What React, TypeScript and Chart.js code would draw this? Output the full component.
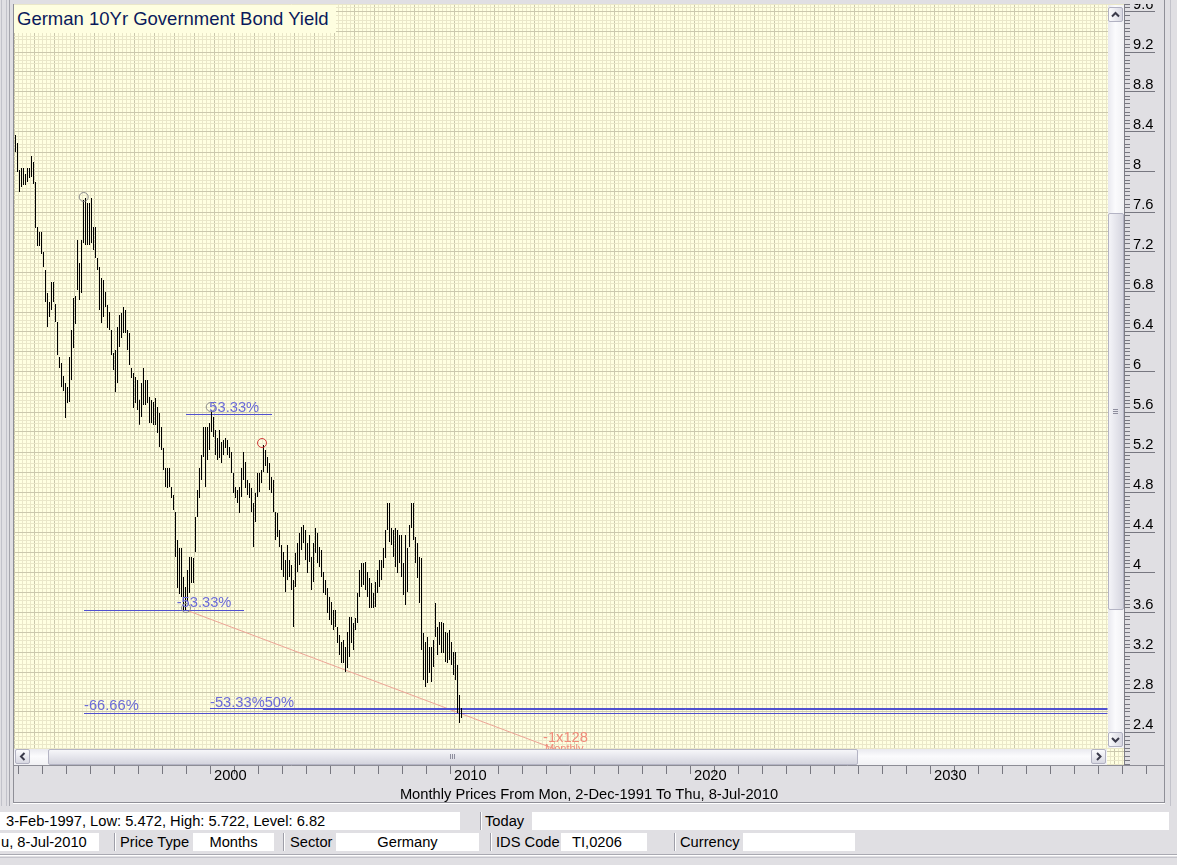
import React, { useEffect, useRef } from "react";
import { Chart, registerables } from "chart.js";

Chart.register(...registerables);

// ---------------- text ----------------
const chartTitle = "German 10Yr Government Bond Yield";
const axisCaption = "Monthly Prices From Mon, 2-Dec-1991 To Thu, 8-Jul-2010";
const infoText = "3-Feb-1997, Low: 5.472, High: 5.722, Level: 6.82";
const todayLabel = "Today";
const dateText = "u, 8-Jul-2010";
const fieldLabels = ["Price Type", "Sector", "IDS Code", "Currency"];
const fieldValues = ["Months", "Germany", "TI,0206", ""];

// ---------------- data ----------------
// monthly bars, index 0 = Dec 1991 ... index 223 = Jul 2010
const monthlyHigh = [
  8.37,
  8.29, 8.02, 8.04, 8.04, 7.98, 8.04, 8.04, 8.16, 8.10, 7.90, 7.45, 7.40, // 1992
  7.40, 7.20, 7.02, 6.79, 6.70, 6.90, 6.90, 6.68, 6.50, 6.15, 6.09, 5.96, // 1993
  5.89, 5.85, 6.15, 6.42, 6.74, 6.76, 7.32, 7.09, 7.32, 7.72, 7.74, 7.69, // 1994
  7.69, 7.74, 7.45, 7.45, 7.14, 7.05, 6.94, 6.92, 6.80, 6.67, 6.60, 6.42, // 1995
  6.19, 6.22, 6.45, 6.57, 6.59, 6.65, 6.62, 6.42, 6.39, 6.04, 5.99, 5.95, // 1996
  5.92, 5.722, 5.89, 6.04, 5.92, 5.92, 5.75, 5.72, 5.70, 5.74, 5.65, 5.59, // 1997
  5.45, 5.24, 5.04, 5.04, 5.04, 4.85, 4.77, 4.60, 4.32, 4.24, 4.24, 3.95, // 1998
  3.85, 4.02, 4.15, 4.15, 4.14, 4.55, 4.82, 5.04, 5.17, 5.45, 5.45, 5.45, // 1999
  5.49, 5.62, 5.55, 5.42, 5.34, 5.42, 5.30, 5.32, 5.34, 5.32, 5.25, 5.20, // 2000
  4.99, 4.85, 4.82, 4.85, 5.04, 5.20, 5.10, 4.92, 4.89, 4.84, 4.69, 4.79, // 2001
  4.99, 4.99, 5.02, 5.27, 5.22, 5.15, 5.09, 4.95, 4.92, 4.60, 4.59, 4.42, // 2002
  4.27, 4.20, 4.12, 4.27, 4.12, 4.07, 3.92, 4.19, 4.29, 4.39, 4.45, 4.47, // 2003
  4.42, 4.29, 4.37, 4.15, 4.29, 4.44, 4.39, 4.25, 4.22, 4.00, 3.92, 3.84, // 2004
  3.75, 3.70, 3.62, 3.62, 3.45, 3.37, 3.30, 3.32, 3.25, 3.40, 3.55, 3.55, // 2005
  3.49, 3.54, 3.79, 4.02, 4.09, 4.09, 4.10, 4.00, 3.94, 3.89, 3.79, 3.90, // 2006
  4.02, 4.12, 4.12, 4.24, 4.42, 4.69, 4.69, 4.44, 4.42, 4.44, 4.42, 4.37, // 2007
  4.37, 4.09, 4.37, 4.24, 4.47, 4.69, 4.69, 4.35, 4.29, 4.15, 4.14, 3.39, // 2008
  3.30, 3.35, 3.25, 3.25, 3.32, 3.69, 3.45, 3.50, 3.50, 3.49, 3.40, 3.39, // 2009
  3.42, 3.30, 3.20, 3.20, 3.07, 2.77, 2.64, // 2010
];
const monthlyLow = [
  8.20,
  8.00, 7.80, 7.85, 7.87, 7.87, 7.90, 7.94, 7.95, 7.88, 7.44, 7.26, 7.26, // 1992
  7.18, 7.05, 6.70, 6.45, 6.55, 6.62, 6.70, 6.50, 6.17, 6.04, 5.85, 5.81, // 1993
  5.54, 5.69, 5.70, 5.92, 6.24, 6.48, 6.82, 6.72, 6.79, 7.29, 7.27, 7.27, // 1994
  7.27, 7.29, 7.22, 7.14, 7.02, 6.62, 6.49, 6.55, 6.65, 6.44, 6.42, 6.17, // 1995
  6.02, 5.80, 5.89, 6.25, 6.34, 6.39, 6.39, 6.22, 6.07, 5.94, 5.64, 5.69, // 1996
  5.62, 5.472, 5.55, 5.67, 5.67, 5.69, 5.49, 5.49, 5.47, 5.47, 5.39, 5.25, // 1997
  5.22, 5.02, 4.85, 4.84, 4.85, 4.74, 4.62, 4.15, 3.84, 3.78, 3.75, 3.62, // 1998
  3.62, 3.71, 3.79, 3.89, 3.89, 4.20, 4.55, 4.74, 4.92, 5.15, 4.85, 5.12, // 1999
  5.22, 5.40, 5.35, 5.17, 5.12, 5.14, 5.09, 5.17, 5.24, 5.17, 5.14, 4.99, // 2000
  4.79, 4.74, 4.69, 4.59, 4.75, 4.92, 4.84, 4.77, 4.74, 4.60, 4.25, 4.50, // 2001
  4.75, 4.80, 4.89, 5.00, 5.06, 4.99, 4.82, 4.79, 4.60, 4.32, 4.35, 4.25, // 2002
  4.02, 3.95, 3.80, 3.92, 3.95, 3.82, 3.45, 3.85, 4.00, 4.07, 4.22, 4.29, // 2003
  4.12, 3.99, 4.10, 3.82, 3.90, 4.19, 4.09, 4.05, 3.95, 3.79, 3.77, 3.59, // 2004
  3.52, 3.47, 3.42, 3.45, 3.29, 3.17, 3.09, 3.09, 3.00, 3.04, 3.15, 3.29, // 2005
  3.22, 3.42, 3.49, 3.75, 3.85, 3.87, 3.82, 3.75, 3.64, 3.64, 3.64, 3.65, // 2006
  3.79, 3.85, 3.92, 4.04, 4.14, 4.42, 4.30, 4.27, 4.15, 4.05, 3.99, 4.09, // 2007
  3.95, 3.77, 3.67, 3.80, 4.25, 4.44, 4.32, 4.09, 3.94, 3.69, 3.22, 2.92, // 2008
  2.85, 2.89, 2.99, 2.90, 3.05, 3.35, 3.17, 3.27, 3.19, 3.19, 3.10, 3.09, // 2009
  3.12, 3.07, 2.97, 2.92, 2.59, 2.49, 2.54, // 2010
];

// x-axis year ticks and the decades that carry a label
const yearTicks = Array.from({ length: 47 }, (_, k) => 1992 + k);
const decadeLabels = [2000, 2010, 2020, 2030];
// price axis: fine ticks every 0.04, labelled every 0.4
const priceTicks = Array.from({ length: 191 }, (_, k) => Math.round((52 + k) * 4) / 100);
// background grid columns (helper axis)
const gridColumns = Array.from({ length: 278 }, (_, k) => k * 4);

// retracement lines (x in month index, y in yield)
const fibLines = [
  { label: "53.33%", y: 5.575, from: 85.25, to: 128.25 },
  { label: "-53.33% upper", y: 3.615, from: 34.25, to: 114.25 },
  { label: "-66.66%", y: 2.585, from: 34.25, to: 546 },
  { label: "-53.33%", y: 2.635, from: 97.25, to: 546 },
  { label: "50%", y: 2.625, from: 123.75, to: 546 },
];
const fibLabels = [
  { text: "53.33%", x: 96.9, y: 5.605 },
  { text: "-53.33%", x: 80.6, y: 3.655 },
  { text: "-66.66%", x: 34.25, y: 2.62 },
  { text: "-53.33%50%", x: 97.25, y: 2.655 },
];
const trendLine = [
  { x: 85.25, y: 3.62 },
  { x: 275, y: 2.19 },
];
const trendLabels = [
  { text: "-1x128", x: 263.75, y: 2.3, size: 14.7 },
  { text: "Monthly", x: 264.75, y: 2.2, size: 11 },
];
const pivotMarkers = [
  { x: 34.1, y: 7.75, color: "#8c8c8c" },
  { x: 97.6, y: 5.65, color: "#8c8c8c" },
  { x: 85.25, y: 3.64, color: "#8c8c8c" },
  { x: 123.25, y: 5.29, color: "#d23c3c" },
];

// ---------------- look ----------------
const FONT_FAMILY = '"Liberation Sans", Arial, sans-serif';
const CHROME = "#e0dfe3";
const PLOT_BG = "#ffffe1";
const GRID_MINOR = "#eae7c9";
const GRID_MAJOR = "#cbc8ad";
const AXIS_TICK = "#777780";
const FIB_LINE = "#5050d0";
const FIB_TEXT = "#6b6bd8";
const TREND_LINE = "#eda496";
const TREND_TEXT = "#f08c7a";

const Y_MIN = 2.07;
const Y_MAX = 9.68;
const M_MIN = -0.75;
const M_MAX = 554.25;
const YEAR_MIN = 2000 - 197 / 24;
const YEAR_MAX = 2000 + 913 / 24;

const alignPx = (p: number) => Math.round(p - 0.5) + 0.5;

const zeroPadding = (s: any) => {
  s.paddingLeft = 0;
  s.paddingRight = 0;
  s.paddingTop = 0;
  s.paddingBottom = 0;
};

const plotBackground = {
  id: "plotBackground",
  beforeDraw(chart: any) {
    const { ctx, chartArea: a } = chart;
    ctx.save();
    ctx.fillStyle = PLOT_BG;
    ctx.fillRect(a.left, a.top, a.right - a.left, a.bottom - a.top);
    ctx.restore();
  },
};

const annotationText = {
  id: "annotationText",
  afterDatasetsDraw(chart: any) {
    const { ctx, chartArea: a, scales } = chart;
    const xs = scales.xm;
    const ys = scales.y;
    ctx.save();
    ctx.beginPath();
    ctx.rect(a.left, a.top, a.right - a.left, a.bottom - a.top);
    ctx.clip();
    ctx.textAlign = "left";
    ctx.textBaseline = "alphabetic";
    ctx.font = `14.7px ${FONT_FAMILY}`;
    ctx.fillStyle = FIB_TEXT;
    fibLabels.forEach((l) => ctx.fillText(l.text, xs.getPixelForValue(l.x), ys.getPixelForValue(l.y)));
    ctx.fillStyle = TREND_TEXT;
    trendLabels.forEach((l) => {
      ctx.font = `${l.size}px ${FONT_FAMILY}`;
      ctx.fillText(l.text, xs.getPixelForValue(l.x), ys.getPixelForValue(l.y));
    });
    ctx.restore();
  },
};

const axisExtras = {
  id: "axisExtras",
  afterDraw(chart: any) {
    const { ctx, chartArea: a, scales } = chart;
    const y = scales.y;
    const x = scales.x;
    ctx.save();
    ctx.strokeStyle = AXIS_TICK;
    ctx.lineWidth = 1;
    ctx.beginPath();
    y.ticks.forEach((t: any) => {
      if (Math.round(t.value * 100) % 40 === 0) {
        const py = alignPx(y.getPixelForValue(t.value));
        ctx.moveTo(a.right, py);
        ctx.lineTo(a.right + 31, py);
      }
    });
    for (let yr = Math.floor(YEAR_MAX) + 1; ; yr++) {
      const px = x.getPixelForValue(yr);
      if (px > 1164) break;
      const ax = alignPx(px);
      ctx.moveTo(ax, a.bottom);
      ctx.lineTo(ax, a.bottom + 9);
    }
    ctx.stroke();
    ctx.strokeStyle = "#8d8d96";
    ctx.beginPath();
    ctx.moveTo(a.right, a.bottom + 0.5);
    ctx.lineTo(1164, a.bottom + 0.5);
    ctx.stroke();
    ctx.restore();
  },
};

type Dir = "up" | "down" | "left" | "right";

function ScrollButton({ left, top, dir }: { left: number; top: number; dir: Dir }) {
  const pts = {
    up: "3,8.5 6.5,5 10,8.5",
    down: "3,5 6.5,8.5 10,5",
    left: "8.5,3 5,6.5 8.5,10",
    right: "5,3 8.5,6.5 5,10",
  }[dir];
  const vertical = dir === "up" || dir === "down";
  return (
    <div
      style={{
        position: "absolute",
        left,
        top,
        width: 15,
        height: 15,
        boxSizing: "border-box",
        border: "1px solid #b2b2c2",
        borderRadius: 2,
        background: vertical
          ? "linear-gradient(to right, #fbfbfd, #d8d8e2)"
          : "linear-gradient(to bottom, #fbfbfd, #d8d8e2)",
      }}
    >
      <svg width={13} height={13} style={{ position: "absolute", left: 0, top: 0 }}>
        <polyline points={pts} fill="none" stroke="#3a3a4a" strokeWidth={2} />
      </svg>
    </div>
  );
}

function Line({ l, t, w, h, c }: { l: number; t: number; w: number; h: number; c: string }) {
  return <div style={{ position: "absolute", left: l, top: t, width: w, height: h, background: c }} />;
}

function Field({ left, top, width, text, align = "left", pad = 0 }: any) {
  return (
    <div
      style={{
        position: "absolute",
        left,
        top,
        width,
        height: 18,
        background: "#ffffff",
        lineHeight: "18px",
        textAlign: align,
        paddingLeft: pad,
        boxSizing: "border-box",
        whiteSpace: "nowrap",
        overflow: "hidden",
      }}
    >
      {text}
    </div>
  );
}

function Sep({ left, top }: { left: number; top: number }) {
  return (
    <>
      <Line l={left} t={top} w={1} h={18} c="#9e9ea8" />
      <Line l={left + 1} t={top} w={1} h={18} c="#ffffff" />
    </>
  );
}

function Label({ left, top, text }: { left: number; top: number; text: string }) {
  return (
    <div style={{ position: "absolute", left, top, height: 18, lineHeight: "18px", whiteSpace: "nowrap" }}>{text}</div>
  );
}

export default function App() {
  const canvasRef = useRef<HTMLCanvasElement | null>(null);

  useEffect(() => {
    const canvas = canvasRef.current;
    if (!canvas) return;
    const barData = monthlyHigh.map((h, i) => ({ x: i, y: [monthlyLow[i], h] }));
    const chart = new Chart(canvas, {
      type: "bar",
      data: {
        datasets: [
          {
            type: "line",
            label: "Pivots",
            data: pivotMarkers.map((p) => ({ x: p.x, y: p.y })),
            xAxisID: "xm",
            yAxisID: "y",
            showLine: false,
            pointRadius: 4.5,
            pointHoverRadius: 4.5,
            pointStyle: "circle",
            pointBorderWidth: 1,
            pointBorderColor: pivotMarkers.map((p) => p.color),
            pointBackgroundColor: "rgba(0,0,0,0)",
            order: 0,
          } as any,
          {
            type: "bar",
            label: "Yield",
            data: barData as any,
            xAxisID: "xm",
            yAxisID: "y",
            backgroundColor: "#000000",
            borderWidth: 0,
            barThickness: 1,
            inflateAmount: 0,
            order: 1,
          } as any,
          ...fibLines.map(
            (l) =>
              ({
                type: "line",
                label: l.label,
                data: [
                  { x: l.from, y: l.y },
                  { x: l.to, y: l.y },
                ],
                xAxisID: "xm",
                yAxisID: "y",
                borderColor: FIB_LINE,
                borderWidth: 1,
                pointRadius: 0,
                fill: false,
                order: 2,
              }) as any
          ),
          {
            type: "line",
            label: "Trend",
            data: trendLine,
            xAxisID: "xm",
            yAxisID: "y",
            borderColor: TREND_LINE,
            borderWidth: 1,
            pointRadius: 0,
            fill: false,
            order: 2,
          } as any,
        ],
      },
      options: {
        responsive: false,
        animation: false,
        events: [],
        layout: { padding: { left: 14, top: 4, right: 0, bottom: 0 }, autoPadding: false } as any,
        plugins: { legend: { display: false }, tooltip: { enabled: false }, title: { display: false } },
        scales: {
          xm: {
            type: "linear",
            axis: "x",
            display: false,
            min: M_MIN,
            max: M_MAX,
            offset: false,
            grid: { offset: false },
          } as any,
          gx: {
            type: "linear",
            axis: "x",
            position: "top",
            min: 0,
            max: 1110,
            offset: false,
            afterBuildTicks: (s: any) => {
              s.ticks = gridColumns.map((value) => ({ value }));
            },
            afterFit: (s: any) => {
              s.height = 0;
              zeroPadding(s);
            },
            ticks: { display: false, autoSkip: false },
            grid: {
              color: (c: any) => (c.tick && c.tick.value % 20 === 0 ? GRID_MAJOR : GRID_MINOR),
              drawTicks: false,
              offset: false,
            },
            border: { display: false },
          } as any,
          x: {
            type: "linear",
            axis: "x",
            position: "bottom",
            min: YEAR_MIN,
            max: YEAR_MAX,
            offset: false,
            afterBuildTicks: (s: any) => {
              s.ticks = yearTicks.map((value) => ({ value }));
            },
            afterFit: (s: any) => {
              s.height = 40;
              zeroPadding(s);
            },
            ticks: {
              autoSkip: false,
              maxRotation: 0,
              minRotation: 0,
              align: "start",
              labelOffset: 3,
              padding: -7,
              color: "#000000",
              font: { family: FONT_FAMILY, size: 14.7 },
              callback: (v: any) => (decadeLabels.includes(Math.round(Number(v))) ? String(Math.round(Number(v))) : ""),
            },
            grid: { drawOnChartArea: false, drawTicks: true, tickLength: 9, tickColor: AXIS_TICK, offset: false },
            border: { display: true, color: "#8d8d96" },
          } as any,
          y: {
            type: "linear",
            position: "right",
            min: Y_MIN,
            max: Y_MAX,
            beginAtZero: false,
            afterBuildTicks: (s: any) => {
              s.ticks = priceTicks.map((value) => ({ value }));
            },
            afterFit: (s: any) => {
              s.width = 53;
              zeroPadding(s);
            },
            ticks: {
              autoSkip: false,
              padding: 3,
              labelOffset: -7,
              color: "#000000",
              font: { family: FONT_FAMILY, size: 14.7 },
              callback: (v: any) => {
                const k = Math.round(Number(v) * 100);
                return k % 40 === 0 ? String(k / 100) : "";
              },
            },
            grid: {
              color: (c: any) => (c.tick && Math.round(c.tick.value * 100) % 20 === 0 ? GRID_MAJOR : GRID_MINOR),
              tickLength: 6,
              tickColor: AXIS_TICK,
              drawTicks: true,
            },
            border: { display: true, color: "#7d7d86" },
          } as any,
        },
      },
      plugins: [plotBackground, annotationText, axisExtras],
    });
    return () => chart.destroy();
  }, []);

  return (
    <div
      style={{
        position: "absolute",
        left: 0,
        top: 0,
        width: 1177,
        height: 865,
        background: CHROME,
        overflow: "hidden",
        fontFamily: FONT_FAMILY,
        fontSize: 14.7,
        color: "#000000",
      }}
    >
      <canvas
        ref={canvasRef}
        width={1177}
        height={805}
        style={{ position: "absolute", left: 0, top: 0, width: 1177, height: 805, display: "block" }}
      />

      {/* window frame */}
      <Line l={0} t={0} w={1177} h={4} c={CHROME} />
      <Line l={1} t={0} w={1} h={806} c="#c2c2ca" />
      <Line l={6} t={0} w={1} h={806} c="#c2c2ca" />
      <Line l={9} t={0} w={1} h={806} c="#a6a6ae" />
      <Line l={13} t={4} w={1} h={799} c="#8f8f97" />
      <Line l={13} t={802} w={1152} h={1} c="#8f8f97" />
      <Line l={13} t={803} w={1152} h={1} c="#ffffff" />
      <Line l={1164} t={0} w={1} h={803} c="#8f8f97" />
      <Line l={1170} t={0} w={1} h={806} c="#c2c2ca" />

      {/* title */}
      <div
        style={{
          position: "absolute",
          left: 14,
          top: 5,
          width: 322,
          height: 28,
          background: "#fefee0",
          color: "#0a1a5c",
          fontSize: 18.5,
          lineHeight: "28px",
          paddingLeft: 3,
          boxSizing: "border-box",
          whiteSpace: "nowrap",
        }}
      >
        {chartTitle}
      </div>

      {/* vertical scrollbar */}
      <div
        style={{
          position: "absolute",
          left: 1108,
          top: 5,
          width: 16,
          height: 743,
          background: "linear-gradient(to right, #e9e9ef, #fbfbfd 45%, #f1f1f4)",
        }}
      />
      <ScrollButton left={1108} top={7} dir="up" />
      <div
        style={{
          position: "absolute",
          left: 1108,
          top: 213,
          width: 16,
          height: 397,
          boxSizing: "border-box",
          border: "1px solid #b4b4c4",
          borderRadius: 2,
          background: "linear-gradient(to right, #f4f4f8, #d6d6e0)",
        }}
      />
      <Line l={1113} t={409} w={5} h={1} c="#8e8e9e" />
      <Line l={1113} t={411} w={5} h={1} c="#8e8e9e" />
      <Line l={1113} t={413} w={5} h={1} c="#8e8e9e" />
      <ScrollButton left={1108} top={732} dir="down" />

      {/* horizontal scrollbar */}
      <div
        style={{
          position: "absolute",
          left: 14,
          top: 749,
          width: 1093,
          height: 16,
          background: "linear-gradient(to bottom, #e9e9ef, #fbfbfd 45%, #f1f1f4)",
        }}
      />
      <ScrollButton left={15} top={749} dir="left" />
      <div
        style={{
          position: "absolute",
          left: 48,
          top: 749,
          width: 810,
          height: 16,
          boxSizing: "border-box",
          border: "1px solid #b4b4c4",
          borderRadius: 2,
          background: "linear-gradient(to bottom, #f6f6f9, #d4d4de)",
        }}
      />
      <Line l={450} t={754} w={1} h={5} c="#8e8e9e" />
      <Line l={452} t={754} w={1} h={5} c="#8e8e9e" />
      <Line l={454} t={754} w={1} h={5} c="#8e8e9e" />
      <ScrollButton left={1091} top={749} dir="right" />

      {/* axis caption */}
      <div
        style={{
          position: "absolute",
          left: 389,
          top: 785,
          width: 400,
          height: 18,
          lineHeight: "18px",
          textAlign: "center",
          whiteSpace: "nowrap",
        }}
      >
        {axisCaption}
      </div>

      {/* status row 1 */}
      <Field left={0} top={812} width={460} text={infoText} pad={6} />
      <Sep left={480} top={812} />
      <Label left={485} top={812} text={todayLabel} />
      <Field left={532} top={812} width={637} text="" />

      {/* status row 2 */}
      <Field left={0} top={833} width={99} text={dateText} pad={1} />
      <Sep left={114} top={833} />
      <Label left={120} top={833} text={fieldLabels[0]} />
      <Field left={193} top={833} width={81} text={fieldValues[0]} align="center" />
      <Sep left={283} top={833} />
      <Label left={290} top={833} text={fieldLabels[1]} />
      <Field left={336} top={833} width={143} text={fieldValues[1]} align="center" />
      <Sep left={490} top={833} />
      <Label left={496} top={833} text={fieldLabels[2]} />
      <Field left={561} top={833} width={86} text={fieldValues[2]} pad={11} />
      <Sep left={674} top={833} />
      <Label left={680} top={833} text={fieldLabels[3]} />
      <Field left={743} top={833} width={112} text={fieldValues[3]} />

      <Line l={0} t={854} w={1177} h={1} c="#a9a9b1" />
      <Line l={0} t={855} w={1177} h={1} c="#ffffff" />
      <Line l={0} t={857} w={1177} h={1} c="#c5c5cc" />
    </div>
  );
}
